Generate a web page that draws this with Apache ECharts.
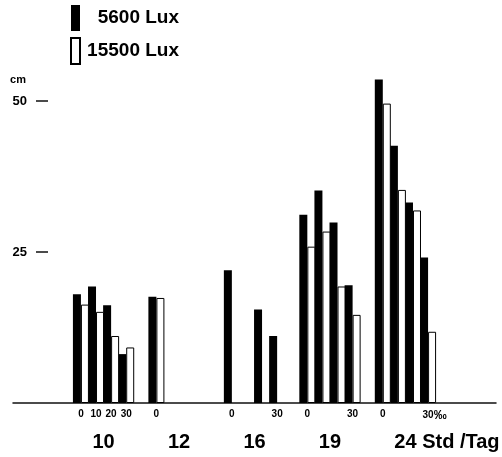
<!DOCTYPE html>
<html>
<head>
<meta charset="utf-8">
<script src="https://cdn.jsdelivr.net/npm/echarts@6/dist/echarts.min.js"></script>
<style>
  html, body { margin: 0; padding: 0; background: #fff; }
  #chart { width: 502px; height: 457px; }
</style>
</head>
<body>
<div id="chart"></div>
<script>
const seriesNames = ['5600 Lux', '15500 Lux'];

// one slot per bar pair, label = share in %
const pctLabels = ['0', '10', '20', '30', '', '0', '', '', '', '', '0', '', '', '30', '', '0', '', '', '30', '', '0', '', '', '30‰'];

// plant height in cm
const lux5600 = [18.0, 19.3, 16.2, 8.1, null, 17.6, null, null, null, null, 22.0, null, 15.5, 11.1, null, 31.2, 35.2, 29.9, 19.5, null, 53.6, 42.6, 33.2, 24.1];
const lux15500 = [16.3, 15.1, 11.1, 9.2, null, 17.4, null, null, null, null, null, null, null, null, null, 25.9, 28.4, 19.3, 14.6, null, 49.6, 35.3, 31.9, 11.8];

// day length groups, placed in slot units
const hourLabels = ['10', '12', '16', '19', '24 Std /Tag'];
const hourSlots = [1.5, 6.5, 11.5, 16.5, 24.25];

const yTicks = [25, 50];

const PAD = 4;
const FONT = 'Liberation Sans';

const slotCount = pctLabels.length + 2 * PAD;
const slotIds = [];
for (let i = 0; i < slotCount; i++) {
  slotIds.push('s' + i);
}

function padSeries(values) {
  const out = [];
  for (let i = 0; i < PAD; i++) out.push('-');
  values.forEach(v => out.push(v === null ? '-' : v));
  for (let i = 0; i < PAD; i++) out.push('-');
  return out;
}

const hourValues = hourSlots.map(s => s + PAD + 0.5);

const chart = echarts.init(document.getElementById('chart'), null, { renderer: 'canvas' });

const option = {
  animation: false,
  backgroundColor: '#fff',
  textStyle: { fontFamily: FONT },
  legend: {
    data: seriesNames,
    orient: 'vertical',
    left: 65,
    top: 0,
    icon: 'rect',
    itemWidth: 9,
    itemHeight: 26,
    itemGap: 6,
    formatter: name => '{t|' + name + '}',
    textStyle: {
      rich: {
        t: {
          width: 94,
          align: 'right',
          fontSize: 19,
          fontWeight: 'bold',
          fontFamily: FONT,
          color: '#000'
        }
      }
    }
  },
  grid: {
    left: 13,
    right: 6,
    top: 71,
    bottom: 54,
    containLabel: false,
    outerBoundsMode: 'none'
  },
  xAxis: [{
    type: 'category',
    data: slotIds,
    axisLine: { lineStyle: { color: '#111', width: 1.5 } },
    axisTick: { show: false },
    axisLabel: {
      interval: 0,
      margin: 6,
      color: '#000',
      fontSize: 10,
      fontWeight: 'bold',
      formatter: (value, index) => {
        const label = pctLabels[index - PAD] || '';
        if (label.indexOf('‰') >= 0) {
          return '{n|' + label.replace('‰', '') + '}{p|‰}';
        }
        return label;
      },
      rich: {
        n: { fontSize: 10, fontWeight: 'bold', color: '#000', padding: [0, 0, 0, 13] },
        p: { fontSize: 13, fontWeight: 'bold', color: '#000' }
      }
    }
  }, {
    type: 'value',
    position: 'bottom',
    min: 0,
    max: slotCount,
    axisLine: { show: false },
    axisTick: { show: false },
    splitLine: { show: false },
    axisLabel: {
      customValues: hourValues,
      margin: 29,
      color: '#000',
      fontSize: 20,
      fontWeight: 'bold',
      formatter: value => {
        const i = hourValues.findIndex(v => Math.abs(v - value) < 1e-6);
        return i >= 0 ? hourLabels[i] : '';
      }
    }
  }],
  yAxis: {
    type: 'value',
    min: 0,
    max: 55,
    interval: 25,
    offset: -35,
    axisLine: { show: false },
    splitLine: { show: false },
    axisTick: {
      show: true,
      length: 12,
      customValues: yTicks,
      lineStyle: { color: '#111', width: 1.5 }
    },
    axisLabel: {
      customValues: yTicks,
      margin: 21,
      color: '#000',
      fontSize: 13,
      fontWeight: 'bold'
    },
    name: 'cm',
    nameLocation: 'end',
    nameGap: -9,
    nameTextStyle: {
      align: 'right',
      verticalAlign: 'middle',
      padding: [0, 22, 0, 0],
      fontSize: 11,
      fontWeight: 'bold',
      color: '#000'
    }
  },
  series: [{
    name: seriesNames[0],
    type: 'bar',
    xAxisIndex: 0,
    data: padSeries(lux5600),
    barWidth: 8,
    barGap: '0%',
    itemStyle: { color: '#000' }
  }, {
    name: seriesNames[1],
    type: 'bar',
    xAxisIndex: 0,
    data: padSeries(lux15500),
    barWidth: 8,
    barGap: '0%',
    itemStyle: { color: '#fff', borderColor: '#000', borderWidth: 1 }
  }]
};

chart.setOption(option);
</script>
</body>
</html>
